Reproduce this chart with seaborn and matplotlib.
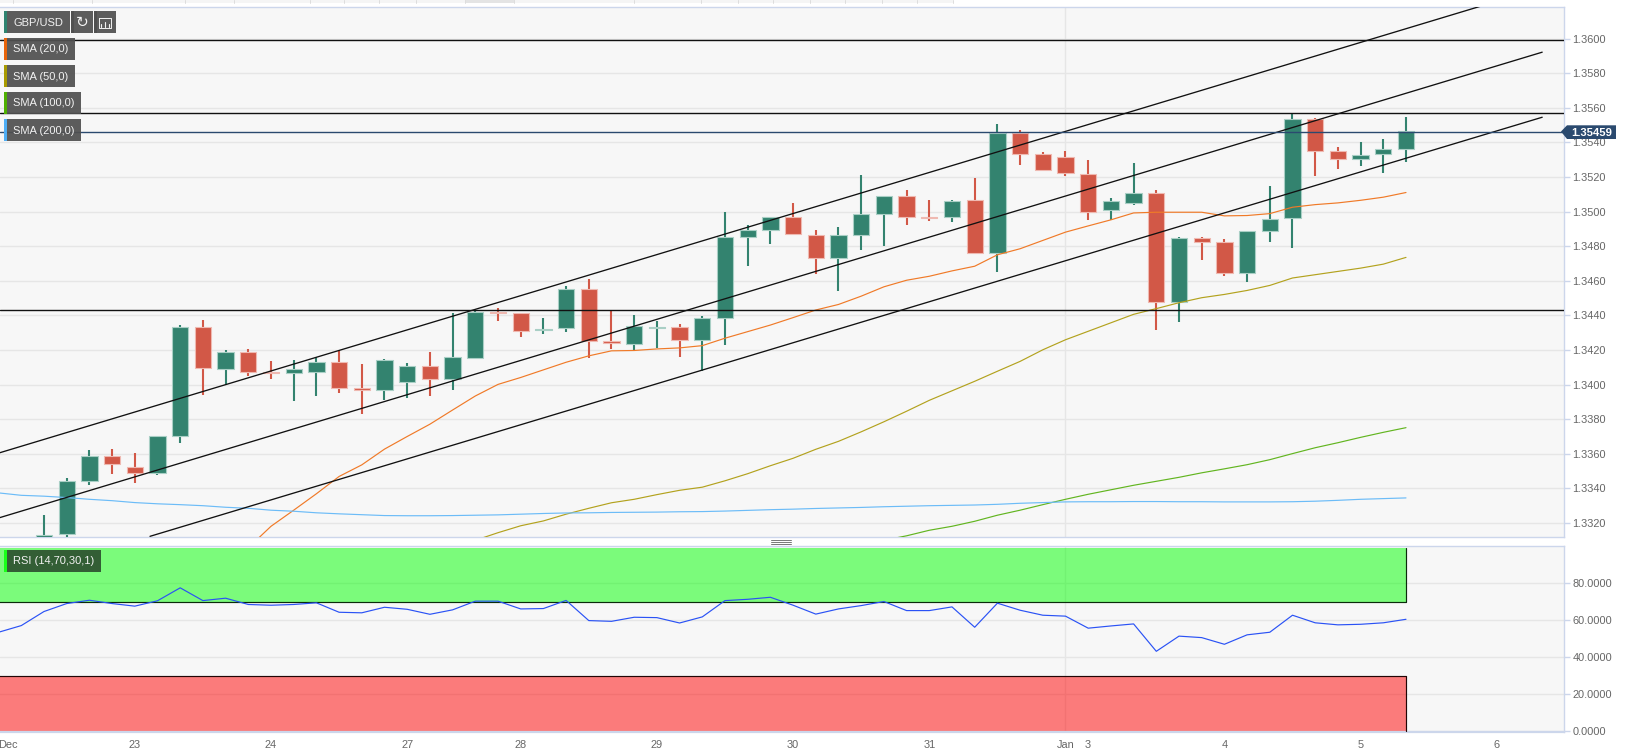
import numpy as np
import seaborn as sns
import matplotlib
matplotlib.use("Agg")
import matplotlib.pyplot as plt
from matplotlib.patches import Rectangle, Polygon
from matplotlib.transforms import ScaledTranslation

# candles, index 0 is the first one visible on the left
candle_high = [1.33249, 1.33460, 1.33623, 1.33629, 1.33606, 1.33703, 1.34342, 1.34371, 1.34199, 1.34204,
               1.34135, 1.34141, 1.34160, 1.34199, 1.34118, 1.34147, 1.34122, 1.34187, 1.34415, 1.34433,
               1.34444, 1.34415, 1.34387, 1.34569, 1.34613, 1.34423, 1.34402, 1.34367, 1.34350, 1.34396,
               1.34995, 1.34920, 1.34968, 1.35047, 1.34895, 1.34909, 1.35214, 1.35089, 1.35127, 1.35064,
               1.35064, 1.35196, 1.35506, 1.35469, 1.35344, 1.35350, 1.35298, 1.35079, 1.35281, 1.35125,
               1.34854, 1.34854, 1.34842, 1.34888, 1.35148, 1.35571, 1.35538, 1.35373, 1.35402, 1.35419,
               1.35546]
candle_top = [1.33131, 1.33442, 1.33588, 1.33588, 1.33521, 1.33703, 1.34333, 1.34333, 1.34189, 1.34187,
              1.34072, 1.34089, 1.34131, 1.34133, 1.33978, 1.34141, 1.34108, 1.34108, 1.34162, 1.34417,
              1.34417, 1.34413, 1.34323, 1.34554, 1.34552, 1.34252, 1.34337, 1.34333, 1.34333, 1.34385,
              1.34853, 1.34891, 1.34968, 1.34966, 1.34864, 1.34862, 1.34985, 1.35089, 1.35089, 1.34968,
              1.35062, 1.35064, 1.35452, 1.35456, 1.35333, 1.35315, 1.35219, 1.35063, 1.35106, 1.35110,
              1.34848, 1.34848, 1.34823, 1.34885, 1.34958, 1.35533, 1.35535, 1.35350, 1.35329, 1.35362,
              1.35463]
candle_bot = [1.33110, 1.33137, 1.33444, 1.33540, 1.33490, 1.33488, 1.33701, 1.34093, 1.34089, 1.34074,
              1.34066, 1.34066, 1.34074, 1.33978, 1.33968, 1.33966, 1.34016, 1.34033, 1.34033, 1.34156,
              1.34413, 1.34310, 1.34314, 1.34329, 1.34254, 1.34241, 1.34237, 1.34325, 1.34258, 1.34258,
              1.34385, 1.34855, 1.34895, 1.34868, 1.34732, 1.34732, 1.34864, 1.34985, 1.34970, 1.34962,
              1.34968, 1.34763, 1.34763, 1.35333, 1.35238, 1.35221, 1.34998, 1.35008, 1.35050, 1.34477,
              1.34477, 1.34823, 1.34644, 1.34644, 1.34885, 1.34962, 1.35352, 1.35304, 1.35304, 1.35331,
              1.35363]
candle_low = [1.33050, 1.33080, 1.33417, 1.33485, 1.33429, 1.33475, 1.33665, 1.33939, 1.33995, 1.34049,
              1.34032, 1.33905, 1.33934, 1.33953, 1.33830, 1.33911, 1.33924, 1.33934, 1.33968, 1.34147,
              1.34365, 1.34275, 1.34291, 1.34306, 1.34151, 1.34206, 1.34200, 1.34210, 1.34160, 1.34081,
              1.34229, 1.34684, 1.34811, 1.34868, 1.34638, 1.34540, 1.34776, 1.34799, 1.34920, 1.34943,
              1.34937, 1.34753, 1.34652, 1.35269, 1.35238, 1.35206, 1.34952, 1.34952, 1.35038, 1.34313,
              1.34363, 1.34721, 1.34629, 1.34594, 1.34825, 1.34790, 1.35206, 1.35246, 1.35263, 1.35223,
              1.35287]
candle_up = [1, 1, 1, 0, 0, 1, 1, 0, 1, 0,
             0, 1, 1, 0, 0, 1, 1, 0, 1, 1,
             0, 0, 1, 1, 0, 0, 1, 1, 0, 1,
             1, 1, 1, 0, 0, 1, 1, 1, 0, 0,
             1, 0, 1, 0, 0, 0, 0, 1, 1, 0,
             1, 0, 0, 1, 1, 1, 0, 0, 1, 1,
             1]

# moving averages, each from its first candle to the last one
sma20_start = 9
sma20 = [1.33057, 1.33181, 1.33274, 1.33369, 1.33469, 1.33536, 1.33627, 1.33700, 1.33771, 1.33853,
         1.33934, 1.34001, 1.34041, 1.34085, 1.34129, 1.34166, 1.34195, 1.34197, 1.34206, 1.34212,
         1.34225, 1.34268, 1.34306, 1.34344, 1.34387, 1.34431, 1.34463, 1.34511, 1.34565, 1.34603,
         1.34626, 1.34657, 1.34684, 1.34750, 1.34785, 1.34833, 1.34881, 1.34917, 1.34952, 1.34992,
         1.34996, 1.34996, 1.34996, 1.34975, 1.34977, 1.34988, 1.35025, 1.35040, 1.35050, 1.35065,
         1.35083, 1.35110]
sma50_start = 19
sma50 = [1.33100, 1.33144, 1.33184, 1.33212, 1.33251, 1.33285, 1.33317, 1.33337, 1.33364, 1.33389, 1.33407,
         1.33444, 1.33485, 1.33531, 1.33574, 1.33626, 1.33672, 1.33727, 1.33785, 1.33846, 1.33909,
         1.33964, 1.34019, 1.34077, 1.34134, 1.34201, 1.34259, 1.34308, 1.34357, 1.34406, 1.34439,
         1.34473, 1.34502, 1.34521, 1.34544, 1.34573, 1.34616, 1.34635, 1.34654, 1.34673, 1.34696,
         1.34735]
sma100_start = 37
sma100 = [1.33100, 1.33126, 1.33158, 1.33181, 1.33210, 1.33245, 1.33274, 1.33306, 1.33337, 1.33366,
          1.33392, 1.33418, 1.33441, 1.33464, 1.33490, 1.33513, 1.33537, 1.33566, 1.33601, 1.33635,
          1.33664, 1.33695, 1.33724, 1.33751]
sma200_start = -2
sma200 = [1.33374, 1.33360, 1.33355, 1.33347, 1.33337, 1.33329, 1.33318, 1.33311, 1.33306, 1.33300,
          1.33291, 1.33285, 1.33274, 1.33268, 1.33259, 1.33253, 1.33248, 1.33243, 1.33242, 1.33242,
          1.33243, 1.33245, 1.33247, 1.33251, 1.33255, 1.33258, 1.33259, 1.33261, 1.33262, 1.33263,
          1.33265, 1.33266, 1.33269, 1.33273, 1.33277, 1.33280, 1.33284, 1.33287, 1.33290, 1.33294,
          1.33297, 1.33300, 1.33302, 1.33304, 1.33308, 1.33314, 1.33318, 1.33322, 1.33323, 1.33323,
          1.33324, 1.33324, 1.33323, 1.33323, 1.33322, 1.33322, 1.33322, 1.33323, 1.33326, 1.33331,
          1.33337, 1.33341, 1.33345]

# RSI, starts two candles left of the first candle
rsi_start = -2
rsi = [53.5, 57.1, 64.7, 69.0, 70.8, 69.0, 67.6, 70.5, 77.5, 70.6, 71.9, 68.5, 68.1, 68.5, 69.4, 64.3,
       64.0, 67.0, 65.9, 63.2, 65.6, 70.3, 70.3, 66.1, 66.3, 70.7, 59.8, 59.4, 61.6, 61.4, 58.5, 61.8,
       70.6, 71.3, 72.4, 68.1, 63.3, 66.1, 67.9, 70.1, 65.2, 65.2, 67.2, 56.2, 69.2, 65.4, 62.7, 62.2,
       55.7, 56.9, 58.0, 43.2, 51.4, 50.6, 47.0, 52.1, 53.5, 62.7, 58.6, 57.5, 57.8, 58.6, 60.5]

# channel lines as (x0, y0, x1, y1) in candles and price
channel_upper = (-2, 1.33604, 66, 1.36294)
channel_middle = (-2, 1.33229, 66, 1.35921)
channel_lower = (4.67, 1.33123, 66, 1.35545)
levels = [1.35992, 1.35571, 1.34433]
last_price = 1.35459

price_ticks = [1.332 + 0.002 * i for i in range(15)]
rsi_ticks = [0, 20, 40, 60, 80]
day_pos = [-1.93, 4, 10, 16, 21, 27, 33, 39, 45, 46, 52, 58, 64]
day_labels = ["Dec", "23", "24", "27", "28", "29", "30", "31", "Jan", "3", "4", "5", "6"]

W, H = 1629, 754
PANE_RIGHT = 1564
x_left = -1.938
x_right = (PANE_RIGHT - 44) / 22.7
GRID = "#e6e6e6"
BORDER = "#ccd6eb"
GREEN = "#33836f"
RED = "#d25847"
TEXT = "#666666"


def box(left, top, right, bottom):
    return [left / W, 1 - bottom / H, (right - left) / W, (bottom - top) / H]


def fx(x):
    return x / W


def fy(y):
    return 1 - y / H


def chip(left, top, right, bottom, label, stripe, color="#505050"):
    fig.add_artist(Rectangle((fx(left), fy(bottom)), (right - left) / W, (bottom - top) / H,
                             transform=fig.transFigure, facecolor=color, edgecolor="none", alpha=0.93, zorder=5))
    fig.add_artist(Rectangle((fx(left), fy(bottom)), 3 / W, (bottom - top) / H,
                             transform=fig.transFigure, facecolor=stripe, edgecolor="none", zorder=6))
    if label:
        fig.text(fx(left + 9), fy((top + bottom) / 2 + 0.5), label, color="#f2f2f2", fontsize=8.0, va="center", zorder=7)


sns.set_style("white")
plt.rcParams["font.family"] = ["Liberation Sans", "DejaVu Sans"]
plt.rcParams["axes.unicode_minus"] = False

fig = plt.figure(figsize=(W / 100, H / 100), dpi=100, facecolor="white")

# cut off tab strip along the top edge of the page
fig.add_artist(Rectangle((0, fy(3)), fx(953), 3 / H, transform=fig.transFigure, facecolor="#f5f5f5", edgecolor="none"))
fig.add_artist(Rectangle((fx(465), fy(3)), 50 / W, 3 / H, transform=fig.transFigure, facecolor="#e4e4e4", edgecolor="none"))
for x in [13, 92, 185, 234, 310, 344, 379, 416, 465, 514, 634, 701, 738, 773, 810, 845, 882, 917, 953]:
    fig.add_artist(plt.Line2D([fx(x), fx(x)], [fy(0), fy(3)], color="#dddddd", linewidth=0.7))

ax = fig.add_axes(box(0, 6.5, PANE_RIGHT, 536.5))
ax2 = fig.add_axes(box(0, 546, PANE_RIGHT, 732))

for a in (ax, ax2):
    a.set_facecolor("#f7f7f7")
    a.set_xlim(x_left, x_right)
    a.yaxis.tick_right()
    a.grid(True, axis="y", color=GRID, linewidth=1)
    a.set_axisbelow(True)
    a.tick_params(axis="y", length=4, width=1, color=BORDER, labelcolor=TEXT, labelsize=7.92, pad=2)
    a.tick_params(axis="x", length=0)
    a.spines["left"].set_visible(False)
    for s in ("top", "right", "bottom"):
        a.spines[s].set_color(BORDER)
        a.spines[s].set_linewidth(1)
    a.axvline(45, color=GRID, linewidth=1, zorder=1)

# price pane
ax.set_ylim(1.33122, 1.36185)
ax.set_yticks(price_ticks)
ax.set_yticklabels([f"{t:.4f}" for t in price_ticks])
ax.set_xticks([])

idx = np.arange(len(candle_high))
up = np.array(candle_up) == 1
high, top, bot, low = map(np.array, (candle_high, candle_top, candle_bot, candle_low))
wick_colors = [GREEN if u else RED for u in up]
edge_colors = ["#a9cfc5" if u else "#efb9b1" for u in up]
ax.vlines(idx, low, high, colors=wick_colors, linewidth=1.5, zorder=3)
ax.bar(idx, top - bot, bottom=bot, width=0.72, color=wick_colors, edgecolor=edge_colors, linewidth=0.8, zorder=4)

for start, values, color in [(sma20_start, sma20, "#f07a28"), (sma50_start, sma50, "#b3a21e"),
                             (sma100_start, sma100, "#62b520"), (sma200_start, sma200, "#6cbcf7")]:
    xs = np.arange(start, start + len(values))
    sns.lineplot(x=xs, y=values, ax=ax, color=color, linewidth=0.85, zorder=5, legend=False)

for x0, y0, x1, y1 in (channel_upper, channel_middle, channel_lower):
    ax.plot([x0, x1], [y0, y1], color="#111111", linewidth=0.95, zorder=6)
for lev in levels:
    ax.axhline(lev, color="#111111", linewidth=1.0, zorder=6)
ax.axhline(last_price, color="#2b4a6f", linewidth=1, zorder=6)

# RSI pane
ax2.set_ylim(-0.4, 100.1)
ax2.set_yticks(rsi_ticks)
ax2.set_yticklabels([f"{t:.4f}" for t in rsi_ticks])
ax2.set_xticks(day_pos)
ax2.set_xticklabels(day_labels)
ax2.tick_params(axis="x", length=3, width=1, color=BORDER, labelcolor=TEXT, labelsize=7.92, pad=3)
dec_label = ax2.get_xticklabels()[0]
dec_label.set_ha("left")
dec_label.set_transform(dec_label.get_transform() + ScaledTranslation(-1.5 / 72, 0, fig.dpi_scale_trans))
ax2.xaxis.get_major_ticks()[0].tick1line.set_visible(False)
ax2.spines["bottom"].set_linewidth(1.6)

band_x = [-2, 60]
ax2.fill_between(band_x, 70, 99.2, color="#00ff00", alpha=0.5, linewidth=0, zorder=2)
ax2.fill_between(band_x, 0, 30, color="#ff0000", alpha=0.5, linewidth=0, zorder=2)
ax2.plot([-2, 60, 60], [70, 70, 99.2], color="#0b2a0b", linewidth=0.85, zorder=3)
ax2.plot([-2, 60, 60], [30, 30, 0], color="#220505", linewidth=0.85, zorder=3)
rsi_x = np.arange(rsi_start, rsi_start + len(rsi))
sns.lineplot(x=rsi_x, y=rsi, ax=ax2, color="#2a52f5", linewidth=0.85, zorder=4, legend=False)

# legend chips on top of the panes
chip(4, 11, 70, 33, "GBP/USD", "#2f8470")
chip(71, 11, 93, 33, "", "#505050")
chip(94, 11, 116, 33, "", "#505050")
fig.text(fx(82.5), fy(22.5), "\u21bb", color="#f2f2f2", fontsize=11, ha="center", va="center",
         family="DejaVu Sans", zorder=7)
for x, y0 in [(101, 24), (105, 22), (109, 24)]:
    fig.add_artist(plt.Line2D([fx(x), fx(x)], [fy(27), fy(y0)], color="#f2f2f2", linewidth=0.8, zorder=7))
fig.add_artist(plt.Line2D([fx(99), fx(99), fx(111), fx(111), fx(99)], [fy(18), fy(28), fy(28), fy(18), fy(18)],
                          color="#f2f2f2", linewidth=0.7, zorder=7))
chip(4, 38, 75, 60, "SMA (20,0)", "#e8640a")
chip(4, 65, 75, 87, "SMA (50,0)", "#a89a00")
chip(4, 92, 81, 114, "SMA (100,0)", "#4fb000")
chip(4, 119, 81, 141, "SMA (200,0)", "#4faef5")
chip(4, 550, 101, 572, "RSI (14,70,30,1)", "#19ff19", color="#2e5230")

# last price tag
fig.add_artist(Polygon([(fx(1561), fy(131.5)), (fx(1567), fy(125.3)), (fx(1616), fy(125.3)),
                        (fx(1616), fy(139)), (fx(1567), fy(139))],
                       closed=True, transform=fig.transFigure, facecolor="#2b4a6f", edgecolor="none", zorder=8))
fig.text(fx(1591.5), fy(132.5), f"{last_price:.5f}", color="white", fontsize=8.1, fontweight="bold",
         ha="center", va="center", zorder=9)

# drag handle between the panes
for y in (539.5, 541.5, 543.5):
    fig.add_artist(plt.Line2D([fx(771), fx(791)], [fy(y), fy(y)], color="#777777", linewidth=0.7))

fig.savefig("out.png", dpi=100)
